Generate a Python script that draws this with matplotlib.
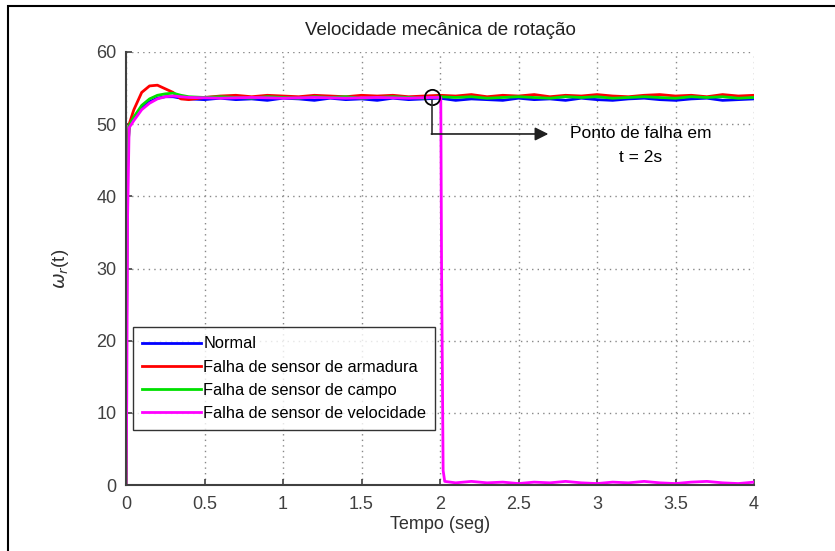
import matplotlib
matplotlib.use("Agg")
import matplotlib.pyplot as plt
from matplotlib.patches import Rectangle

plt.rcParams['font.family'] = ['Liberation Sans', 'DejaVu Sans']

# ---- data ----
t_start = [0.0, 0.005, 0.01, 0.02, 0.05, 0.1, 0.15, 0.2, 0.25, 0.3, 0.35]
normal_start = [0.0, 30.0, 45.0, 49.8, 50.8, 52.2, 53.1, 53.6, 53.8, 53.8, 53.6]
armadura_start = [0.0, 30.0, 45.0, 50.0, 52.0, 54.4, 55.3, 55.4, 54.9, 54.4, 53.5]
campo_start = [0.0, 30.0, 45.0, 49.8, 51.0, 52.6, 53.5, 54.0, 54.2, 54.3, 54.0]
veloc_start = [0.0, 12.0, 37.0, 49.5, 50.5, 52.0, 52.9, 53.5, 53.8, 53.9, 53.8]

t_steady = [0.4, 0.5, 0.6, 0.7, 0.8, 0.9, 1.0, 1.1, 1.2, 1.3, 1.4, 1.5, 1.6, 1.7,
            1.8, 1.9, 2.0, 2.1, 2.2, 2.3, 2.4, 2.5, 2.6, 2.7, 2.8, 2.9, 3.0, 3.1,
            3.2, 3.3, 3.4, 3.5, 3.6, 3.7, 3.8, 3.9, 4.0]
normal_steady = [53.5, 53.4, 53.6, 53.4, 53.5, 53.3, 53.6, 53.5, 53.3, 53.6, 53.4,
                 53.5, 53.3, 53.6, 53.4, 53.5, 53.6, 53.3, 53.5, 53.4, 53.3, 53.6,
                 53.4, 53.5, 53.3, 53.6, 53.4, 53.3, 53.5, 53.6, 53.4, 53.3, 53.5,
                 53.6, 53.3, 53.4, 53.5]
armadura_steady = [53.4, 53.7, 53.9, 54.0, 53.8, 54.0, 53.9, 53.8, 54.0, 53.9, 53.8,
                   54.0, 53.9, 54.0, 53.8, 53.9, 54.0, 53.9, 54.1, 53.8, 54.0, 53.9,
                   54.1, 53.8, 54.0, 53.9, 54.1, 53.9, 53.8, 54.0, 54.1, 53.9, 54.0,
                   53.8, 54.1, 53.9, 54.0]
campo_steady = [53.8, 53.7, 53.8, 53.7, 53.6, 53.8, 53.7, 53.6, 53.8, 53.7, 53.8,
                53.6, 53.7, 53.8, 53.7, 53.6, 53.8, 53.7, 53.8, 53.6, 53.7, 53.8,
                53.7, 53.6, 53.8, 53.7, 53.8, 53.6, 53.7, 53.8, 53.7, 53.6, 53.8,
                53.7, 53.8, 53.6, 53.7]

t_veloc = [0.4, 0.6, 0.8, 1.0, 1.2, 1.4, 1.6, 1.8, 1.95, 2.005, 2.01, 2.02, 2.03,
           2.1, 2.2, 2.3, 2.4, 2.5, 2.6, 2.7, 2.8, 2.9, 3.0, 3.1, 3.2, 3.3, 3.4,
           3.5, 3.6, 3.7, 3.8, 3.9, 4.0]
veloc_steady = [53.7, 53.6, 53.7, 53.6, 53.7, 53.6, 53.7, 53.6, 53.7, 53.7, 30.0,
                2.0, 0.5, 0.3, 0.5, 0.3, 0.4, 0.2, 0.4, 0.3, 0.5, 0.3, 0.2, 0.4,
                0.3, 0.5, 0.3, 0.2, 0.4, 0.5, 0.3, 0.2, 0.4]

labels = ['Normal', 'Falha de sensor de armadura', 'Falha de sensor de campo',
          'Falha de sensor de velocidade']
colors = ['#0000ff', '#ff0000', '#00e000', '#ff00ff']

fail_t, fail_w = 1.95, 53.8

# ---- figure ----
fig = plt.figure(figsize=(8.35, 5.51), dpi=100)
ax = fig.add_axes([126/835, 1-485/551, 628/835, 433/551])

# outer frame
fig.patches.append(Rectangle((8/835, -0.1), 1.2, 1 - 6/551 + 0.1, transform=fig.transFigure,
                             fill=False, edgecolor='black', linewidth=1.5))

series = [(t_start + t_steady, normal_start + normal_steady),
          (t_start + t_steady, armadura_start + armadura_steady),
          (t_start + t_steady, campo_start + campo_steady),
          (t_start + t_veloc, veloc_start + veloc_steady)]
for (tt, yy), c, lab in zip(series, colors, labels):
    ax.plot(tt, yy, color=c, lw=2, label=lab)

ax.set_xlim(0, 4)
ax.set_ylim(0, 60)
ax.set_xticks([0, 0.5, 1, 1.5, 2, 2.5, 3, 3.5, 4])
ax.set_xticklabels(['0', '0.5', '1', '1.5', '2', '2.5', '3', '3.5', '4'])
ax.set_yticks([0, 10, 20, 30, 40, 50, 60])
ax.grid(True, linestyle=(0, (1, 3)), color='#888888', linewidth=1)
for s in ['top', 'right']:
    ax.spines[s].set_visible(False)
for s in ['left', 'bottom']:
    ax.spines[s].set_color('#404040')
    ax.spines[s].set_linewidth(1.5)
ax.tick_params(direction='in', length=4, width=1.2, colors='#404040',
               labelsize=13, labelcolor='#404040')
ax.tick_params(axis='x', pad=8)
ax.tick_params(axis='y', pad=7)
ax.set_title('Velocidade mecânica de rotação', fontsize=13.5, color='#202020', pad=12)
ax.set_xlabel('Tempo (seg)', fontsize=13, color='#303030', labelpad=2)
ax.set_ylabel(r'$\omega_r$(t)', fontsize=13.5, color='#303030', labelpad=18)

leg = ax.legend(loc='lower left', bbox_to_anchor=(0.011, 0.127), fontsize=11.8,
                frameon=True, fancybox=False, edgecolor='black', borderpad=0.55,
                handlelength=3.6, handletextpad=0.15, labelspacing=0.5, borderaxespad=0)
leg.get_frame().set_linewidth(1)

# failure marker & arrow
ax.plot([fail_t], [fail_w], marker='o', markersize=11, markerfacecolor='none',
        markeredgecolor='black', markeredgewidth=1.3)
ax.plot([fail_t, fail_t], [fail_w - 0.5, 48.64], color='#303030', lw=1.2)
ax.annotate('', xy=(2.69, 48.64), xytext=(fail_t - 0.005, 48.64),
            arrowprops=dict(arrowstyle='-|>', color='#202020', lw=1.2,
                            mutation_scale=20, shrinkA=0, shrinkB=0))
ax.text(3.28, 48.64, 'Ponto de falha em', fontsize=12.5, ha='center', va='center')
ax.text(3.28, 45.45, 't = 2s', fontsize=12.5, ha='center', va='center')

fig.savefig('out.png', dpi=100)
